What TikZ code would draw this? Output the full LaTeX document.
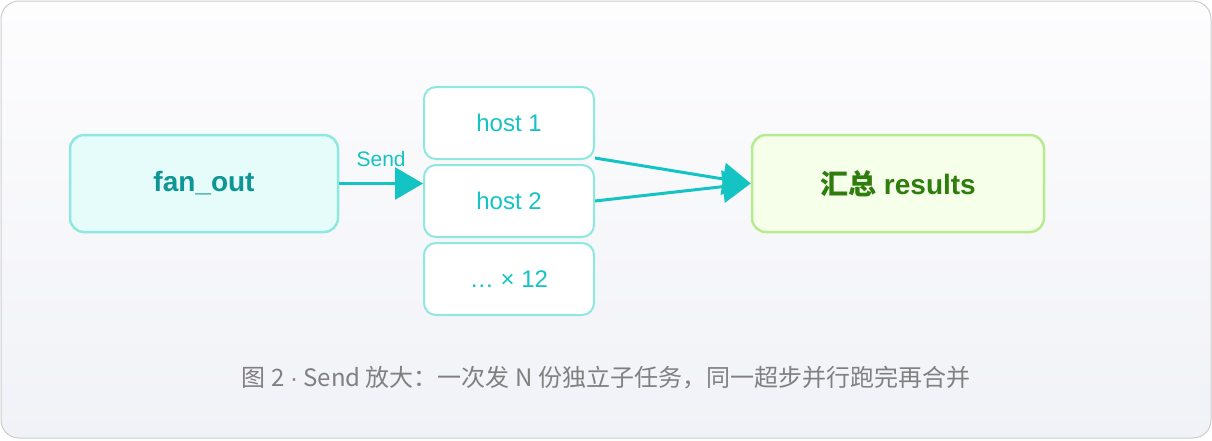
\documentclass[tikz,border=0pt]{standalone}
\usepackage{fontspec}
\setmainfont{Liberation Sans}
\newfontfamily\cjk{Noto Sans CJK SC}
\usetikzlibrary{arrows.meta,positioning}
\definecolor{cy}{HTML}{14C3C3}
\definecolor{cyb}{HTML}{8EE8E0}
\definecolor{cyf}{HTML}{E6FCFA}
\definecolor{cyt}{HTML}{0E9595}
\definecolor{grb}{HTML}{B8EB90}
\definecolor{grf}{HTML}{F5FFEA}
\definecolor{grt}{HTML}{2F7D0C}
\definecolor{bgtop}{HTML}{FDFDFE}
\definecolor{bgbot}{HTML}{F1F2F7}
\tikzset{
 box/.style={draw=cyb,line width=2.5pt,rounded corners=14pt,minimum width=268pt,minimum height=97pt,fill=cyf,text=cyt,font=\fontsize{28}{32}\selectfont\bfseries},
 host/.style={draw=cyb,line width=2pt,rounded corners=12pt,minimum width=170pt,minimum height=72pt,fill=white,text=cy,font=\fontsize{24}{28}\selectfont},
 res/.style={box,draw=grb,fill=grf,text=grt,minimum width=292pt},
 arr/.style={cy,line width=3pt,-{Triangle[length=28pt,width=32pt]}}
}
\begin{document}
\begin{tikzpicture}[x=1pt,y=-1pt]
\useasboundingbox (0,0) rectangle (1212,440);
\shade[top color=bgtop,bottom color=bgbot,draw=black!20,line width=1pt,rounded corners=18pt] (1,1) rectangle (1211,438);
\node[box] (fan) at (204,183.5) {fan\_out};
\node[host] (h1) at (509,123) {host 1};
\node[host] (h2) at (509,201) {host 2};
\node[host] (h3) at (509,279) {… × 12};
\node[res] (res) at (898,183.5) {{\cjk 汇总} results};
\draw[arr] (fan.east) -- (h2.west|-fan.east) node[midway,above=12pt,text=cy,font=\fontsize{21}{24}\selectfont]{Send};
\coordinate (t) at (res.west);
\draw[arr] (h1.east)++(0,35) -- (t);
\draw[arr] (h2.east) -- (t);
\node[text=black!50,font=\cjk\fontsize{24}{28}\selectfont] (cap) at (606,378) {图 2 {\rmfamily ·} Send 放大：一次发 N 份独立子任务，同一超步并行跑完再合并};
\end{tikzpicture}
\end{document}
